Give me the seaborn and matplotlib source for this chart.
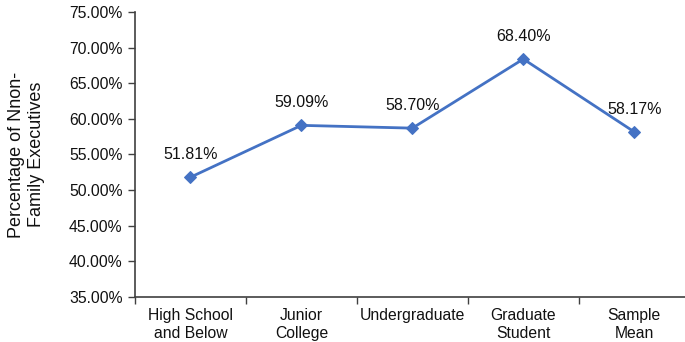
import matplotlib
matplotlib.use("Agg")
import matplotlib.pyplot as plt
from matplotlib.ticker import FixedLocator, PercentFormatter
import seaborn as sns
import pandas as pd

categories = ["High School\nand Below", "Junior\nCollege", "Undergraduate",
              "Graduate\nStudent", "Sample\nMean"]
share_pct = [51.81, 59.09, 58.70, 68.40, 58.17]
y_ticks = [35, 40, 45, 50, 55, 60, 65, 70, 75]

sns.set_theme(style="white")
plt.rcParams["font.family"] = ["Liberation Sans", "DejaVu Sans"]

df = pd.DataFrame({"group": categories, "share": share_pct})

fig = plt.figure(figsize=(6.85, 3.42), dpi=100)
ax = fig.add_axes([0.197, 0.1316, 0.81, 0.8333])

sns.lineplot(data=df, x="group", y="share", ax=ax, sort=False,
             color="#4472C4", linewidth=2.0, marker="D", markersize=6,
             markeredgecolor="#4472C4")

for i, v in enumerate(share_pct):
    ax.annotate(f"{v:.2f}%", (i, v), xytext=(0, 11), textcoords="offset points",
                ha="center", va="bottom", fontsize=11.5, color="#111111")

ax.set_xlim(-0.5, len(categories) - 0.5)
ax.set_ylim(35, 75)
ax.yaxis.set_major_locator(FixedLocator(y_ticks))
ax.yaxis.set_major_formatter(PercentFormatter(decimals=2))

# category boundaries get the tick marks, centres get the labels
n = len(categories)
ax.xaxis.set_major_locator(FixedLocator([i - 0.5 for i in range(n + 1)]))
ax.xaxis.set_minor_locator(FixedLocator(list(range(n))))
ax.set_xticklabels([""] * (n + 1))
ax.set_xticklabels(categories, minor=True)
ax.tick_params(axis="x", which="major", direction="out", length=5, width=1,
               color="#404040", bottom=True)
ax.tick_params(axis="x", which="minor", length=0, labelsize=11.3, pad=8,
               labelcolor="#111111")
ax.tick_params(axis="y", direction="out", length=5, width=1, color="#404040",
               left=True, labelsize=11.3, labelcolor="#111111", pad=4)

for side in ("top", "right"):
    ax.spines[side].set_visible(False)
for side in ("left", "bottom"):
    ax.spines[side].set_color("#404040")
    ax.spines[side].set_linewidth(1.2)

ax.set_xlabel("")
ax.set_ylabel("Percentage of Nnon-\nFamily Executives", fontsize=13,
              color="#111111", linespacing=1.25)
ax.yaxis.set_label_coords(-0.162, 0.5)

fig.savefig("out.png", dpi=100)
